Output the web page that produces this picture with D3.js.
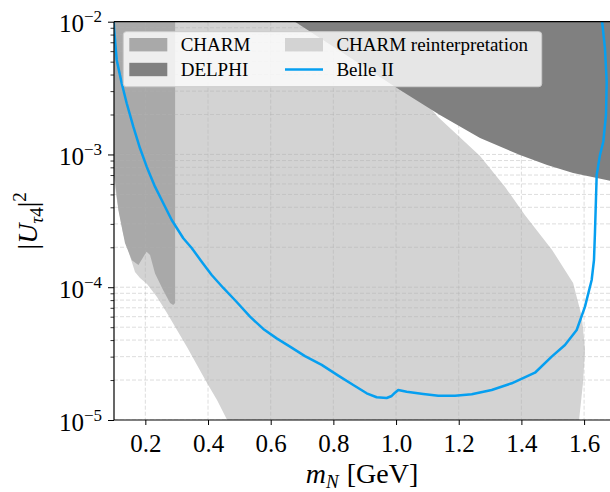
<!DOCTYPE html>
<html>
<head>
<meta charset="utf-8">
<script src="https://cdn.jsdelivr.net/npm/d3@7"></script>
<style>
  html, body { margin: 0; padding: 0; background: #fff; }
  svg { display: block; }
  text { font-family: "Liberation Serif", "DejaVu Serif", serif; fill: #000; }
</style>
</head>
<body>
<svg id="chart" width="610" height="492"></svg>
<script>
// ---- Exclusion regions in the (m_N, |U_tau4|^2) plane ----

// CHARM: lower edge, left to right (region extends upward to the top of the plot)
const charmMass = [0.085, 0.103, 0.114, 0.135, 0.157, 0.178, 0.194, 0.204, 0.215, 0.231, 0.257, 0.279, 0.289, 0.295];
const charmU    = [1.0e-3, 6.4e-4, 3.8e-4, 2.15e-4, 1.6e-4, 1.47e-4, 1.70e-4, 1.85e-4, 1.75e-4, 1.27e-4, 9.5e-5, 7.6e-5, 7.35e-5, 7.6e-5];

// CHARM reinterpretation: outline, upper-right edge downward then left edge upward
const reinterpMass = [0.08, 0.815, 1.134, 1.268, 1.348, 1.411, 1.498, 1.565, 1.593, 1.603, 1.5965, 1.584, 1.574,
                      0.4925, 0.461, 0.4287, 0.3968, 0.3648, 0.3329, 0.301, 0.2691, 0.2372, 0.2053, 0.183, 0.167,
                      0.1447, 0.1287, 0.1191, 0.1064, 0.1, 0.0872, 0.08];
const reinterpU    = [1.5e-2, 1.457e-2, 1.915e-3, 9.74e-4, 5.69e-4, 3.50e-4, 1.91e-4, 1.076e-4, 5.97e-5, 3.37e-5, 1.90e-5, 1.0e-5, 7.07e-6,
                      7.07e-6, 1.0e-5, 1.415e-5, 1.90e-5, 2.60e-5, 3.55e-5, 4.76e-5, 6.40e-5, 8.44e-5, 1.058e-4, 1.175e-4, 1.30e-4,
                      1.91e-4, 2.56e-4, 3.38e-4, 4.95e-4, 6.43e-4, 9.08e-4, 1.2e-3];

// DELPHI: lower edge, left to right (region extends up to the top-right corner)
const delphiMass = [0.569, 0.6775, 1.0126, 1.140, 1.268, 1.3955, 1.482, 1.565, 1.641, 1.7145, 1.75, 1.75];
const delphiU    = [1.457e-2, 1.0e-2, 3.06e-3, 1.983e-3, 1.33e-3, 9.91e-4, 8.33e-4, 7.25e-4, 6.65e-4, 6.10e-4, 6.0e-4, 1.5e-2];

// Belle II sensitivity curve
const belleMass = [0.0968, 0.101, 0.1086, 0.1246, 0.1405, 0.1616, 0.183, 0.2043, 0.2308, 0.2573, 0.2841, 0.3211, 0.3479,
                   0.3798, 0.4117, 0.4488, 0.4915, 0.534, 0.5764, 0.6191, 0.6616, 0.7094, 0.7627, 0.8157, 0.8636, 0.9063,
                   0.9382, 0.9701, 0.9861, 0.9966, 1.0071, 1.034, 1.0869, 1.1348, 1.1881, 1.2414, 1.3052, 1.369, 1.4433,
                   1.4966, 1.539, 1.5764, 1.6029, 1.6242, 1.6316, 1.6348, 1.638, 1.6402, 1.6507, 1.6613, 1.6699, 1.6721,
                   1.6667, 1.6581, 1.6555];
const belleU    = [1.225e-2, 8.41e-3, 5.15e-3, 3.44e-3, 2.43e-3, 1.619e-3, 1.113e-3, 8.09e-4, 5.72e-4, 4.29e-4, 3.21e-4, 2.34e-4, 1.975e-4,
                   1.557e-4, 1.237e-4, 9.87e-5, 7.74e-5, 6.00e-5, 4.85e-5, 4.12e-5, 3.57e-5, 3.03e-5, 2.60e-5, 2.16e-5, 1.835e-5, 1.589e-5,
                   1.483e-5, 1.465e-5, 1.517e-5, 1.606e-5, 1.683e-5, 1.634e-5, 1.571e-5, 1.524e-5, 1.524e-5, 1.562e-5, 1.683e-5, 1.89e-5, 2.27e-5,
                   3.00e-5, 3.67e-5, 4.76e-5, 7.14e-5, 1.134e-4, 1.604e-4, 2.62e-4, 4.68e-4, 7.00e-4, 9.91e-4, 1.248e-3, 1.983e-3, 3.53e-3,
                   6.30e-3, 9.72e-3, 1.225e-2];

// Axis ticks
const xTicks = [0.2, 0.4, 0.6, 0.8, 1.0, 1.2, 1.4, 1.6];
const yMajor = [1e-5, 1e-4, 1e-3, 1e-2];
const yMajorExp = ["−5", "−4", "−3", "−2"];

// Legend entries
const legendItems = [
  { label: "CHARM", kind: "patch", color: "#a9a9a9" },
  { label: "DELPHI", kind: "patch", color: "#808080" },
  { label: "CHARM reinterpretation", kind: "patch", color: "#d3d3d3" },
  { label: "Belle II", kind: "line", color: "#069ff0" }
];

// ---- Layout ----
const frame = { left: 114, top: 21.7, right: 610, bottom: 420 };
const svg = d3.select("#chart");

const x = d3.scaleLinear().domain([0.1, 1.6827]).range([frame.left, frame.right]);
const y = d3.scaleLog().domain([1e-5, 1e-2]).range([frame.bottom, frame.top]);

const yMinor = [];
for (let e = -5; e < -2; e++) for (let k = 2; k <= 9; k++) yMinor.push(k * Math.pow(10, e));

svg.append("defs").append("clipPath").attr("id", "plot-clip")
  .append("rect")
  .attr("x", frame.left).attr("y", frame.top)
  .attr("width", frame.right - frame.left).attr("height", frame.bottom - frame.top);

const outline = d3.line().x(d => x(d[0])).y(d => y(d[1]));
const region = (ms, us) => outline(d3.zip(ms, us)) + "Z";

const plot = svg.append("g").attr("clip-path", "url(#plot-clip)");

// Filled exclusion regions
plot.append("path").attr("d", region(reinterpMass, reinterpU)).attr("fill", "#d3d3d3");
plot.append("path")
  .attr("d", region(charmMass.concat([0.295, 0.085]), charmU.concat([1.5e-2, 1.5e-2])))
  .attr("fill", "#a9a9a9");

// Dashed grid
const grid = plot.append("g")
  .attr("stroke", "#b0b0b0").attr("stroke-opacity", 0.55)
  .attr("stroke-width", 0.8).attr("stroke-dasharray", "4,2");
grid.selectAll("line.gx").data(xTicks).join("line")
  .attr("x1", d => x(d)).attr("x2", d => x(d))
  .attr("y1", frame.top).attr("y2", frame.bottom);
grid.selectAll("line.gy").data(yMajor.concat(yMinor)).join("line")
  .attr("x1", frame.left).attr("x2", frame.right)
  .attr("y1", d => y(d)).attr("y2", d => y(d));

plot.append("path").attr("d", region(delphiMass, delphiU)).attr("fill", "#808080");

// Belle II curve
plot.append("path")
  .attr("d", outline(d3.zip(belleMass, belleU)))
  .attr("fill", "none").attr("stroke", "#069ff0")
  .attr("stroke-width", 2.5).attr("stroke-linejoin", "round").attr("stroke-linecap", "round");

// ---- Axes ----
const xAxis = svg.append("g").attr("transform", `translate(0,${frame.bottom})`)
  .call(d3.axisBottom(x).tickValues(xTicks).tickSize(5).tickFormat(d3.format(".1f")));
xAxis.select(".domain").remove();
xAxis.selectAll(".tick line").attr("stroke", "#000").attr("stroke-width", 1);
xAxis.selectAll(".tick text")
  .attr("y", 32).attr("dy", null)
  .style("font-size", "25px").style("font-family", "'Liberation Serif', serif");

const yAxis = svg.append("g").attr("transform", `translate(${frame.left},0)`)
  .call(d3.axisLeft(y).tickValues(yMajor).tickSize(6).tickFormat(() => ""));
yAxis.select(".domain").remove();
yAxis.selectAll(".tick line").attr("stroke", "#000").attr("stroke-width", 1);
yAxis.selectAll(".tick text").remove();
yAxis.selectAll(".tick").each(function (d, i) {
  const t = d3.select(this).append("text")
    .attr("x", -12).attr("y", 10)
    .attr("text-anchor", "end")
    .style("font-size", "25px");
  t.append("tspan").text("10");
  t.append("tspan").attr("dy", -10).style("font-size", "17px").text(yMajorExp[i]);
});

const yMinorAxis = svg.append("g").attr("transform", `translate(${frame.left},0)`)
  .call(d3.axisLeft(y).tickValues(yMinor).tickSize(3.5).tickFormat(() => ""));
yMinorAxis.select(".domain").remove();
yMinorAxis.selectAll(".tick line").attr("stroke", "#000").attr("stroke-width", 0.8);

// Spines
const spines = svg.append("g").attr("stroke", "#000").attr("stroke-width", 1.2).attr("fill", "none");
spines.append("line").attr("x1", frame.left).attr("x2", frame.left).attr("y1", frame.top).attr("y2", frame.bottom);
spines.append("line").attr("x1", frame.left).attr("x2", frame.right).attr("y1", frame.bottom).attr("y2", frame.bottom);
spines.append("line").attr("x1", frame.left).attr("x2", frame.right).attr("y1", frame.top).attr("y2", frame.top);

// Axis titles
const xTitle = svg.append("text")
  .attr("x", (frame.left + frame.right) / 2).attr("y", 483)
  .attr("text-anchor", "middle").style("font-size", "28px");
xTitle.append("tspan").style("font-style", "italic").text("m");
xTitle.append("tspan").style("font-style", "italic").style("font-size", "19px").attr("dy", 5).text("N");
xTitle.append("tspan").attr("dy", -5).attr("dx", 8).text("[GeV]");

const yTitle = svg.append("text")
  .attr("transform", `translate(37,${(frame.top + frame.bottom) / 2}) rotate(-90)`)
  .attr("text-anchor", "middle").style("font-size", "28px");
yTitle.append("tspan").text("|");
yTitle.append("tspan").style("font-style", "italic").text("U");
yTitle.append("tspan").style("font-style", "italic").style("font-size", "19px").attr("dy", 6).text("τ");
yTitle.append("tspan").style("font-size", "19px").text("4");
yTitle.append("tspan").attr("dy", -6).text("|");
yTitle.append("tspan").style("font-size", "19px").attr("dy", -11).text("2");

// ---- Legend ----
const legend = svg.append("g");
legend.append("rect")
  .attr("x", 123.3).attr("y", 31.7).attr("width", 418.4).attr("height", 55)
  .attr("rx", 3).attr("fill", "#fff").attr("fill-opacity", 0.8)
  .attr("stroke", "#cccccc").attr("stroke-width", 1);

const colX = [129.3, 285];
const rowY = [44.7, 69.5];
legendItems.forEach((item, i) => {
  const cx = colX[Math.floor(i / 2)];
  const cy = rowY[i % 2];
  if (item.kind === "patch") {
    legend.append("rect").attr("x", cx).attr("y", cy - 6.7).attr("width", 38).attr("height", 13.4)
      .attr("fill", item.color);
  } else {
    legend.append("line").attr("x1", cx).attr("x2", cx + 38).attr("y1", cy).attr("y2", cy)
      .attr("stroke", item.color).attr("stroke-width", 2.5);
  }
  legend.append("text").attr("x", cx + 51.4).attr("y", cy + 6.5)
    .style("font-size", "19px").text(item.label);
});
</script>
</body>
</html>
